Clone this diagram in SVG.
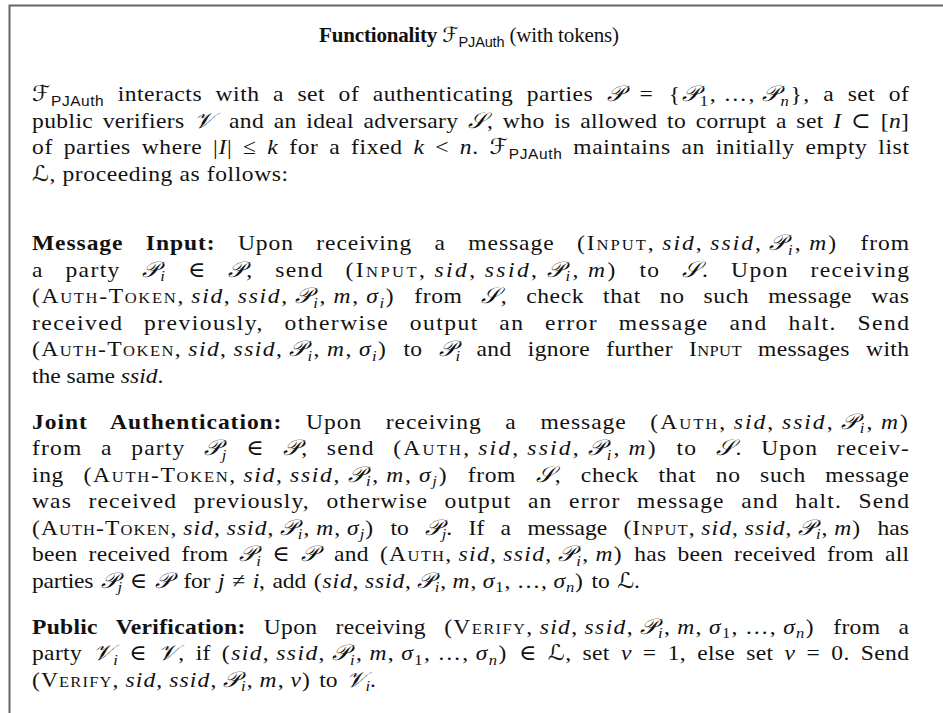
<svg xmlns="http://www.w3.org/2000/svg" width="943" height="713" viewBox="0 0 943 713">
<style>
.t{font-family:"Liberation Serif","DejaVu Serif",serif;font-size:22px;fill:#111}
.h{font-family:"Liberation Serif","DejaVu Serif",serif;font-size:21px;fill:#111}
.b{font-weight:bold}
.i{font-style:italic}
.m{letter-spacing:1px}
.sc{font-variant:small-caps}
.c{font-family:"DejaVu Serif","DejaVu Sans","Noto Sans",serif;font-style:italic}
.s{font-size:15.5px;font-style:italic;baseline-shift:-4.5px}
.sn{font-size:15.5px;baseline-shift:-4.5px}
.sf{font-family:"Liberation Sans","DejaVu Sans",sans-serif;font-size:14.5px;baseline-shift:-4.5px}
.frame{fill:none;stroke:#666;stroke-width:2}
</style>
<g id="frame"><path class="frame" d="M9.5,713 V5.5 H943"/></g>
<g id="title">
<text class="h" x="469" y="42" text-anchor="middle" textLength="300" lengthAdjust="spacing"><tspan class="b">Functionality</tspan> <tspan class="c">ℱ</tspan><tspan class="sf">PJAuth</tspan> (with tokens)</text>
</g>
<g id="intro">
<text class="t" transform="matrix(1.07 0 0 1 32 101)" textLength="819.6" lengthAdjust="spacing" word-spacing="6.6"><tspan class="c">ℱ</tspan><tspan class="sf">PJAuth</tspan> interacts with a set of authenticating parties <tspan class="m"><tspan class="c">𝒫</tspan> = {<tspan class="c">𝒫</tspan><tspan class="sn">1</tspan>,&#8201;…,&#8201;<tspan class="c">𝒫</tspan><tspan class="s">n</tspan>}</tspan>, a set of</text>
<text class="t" transform="matrix(1.07 0 0 1 32 127.5)" textLength="819.6" lengthAdjust="spacing" word-spacing="3.1">public verifiers <tspan class="c">𝒱</tspan>&#8201; and an ideal adversary <tspan class="c">𝒮</tspan>, who is allowed to corrupt a set <tspan class="i">I</tspan> ⊂ [<tspan class="i">n</tspan>]</text>
<text class="t" transform="matrix(1.07 0 0 1 32 154)" textLength="819.6" lengthAdjust="spacing" word-spacing="3.9">of parties where |<tspan class="i">I</tspan>| ≤ <tspan class="i">k</tspan> for a fixed <tspan class="i">k</tspan> &lt; <tspan class="i">n</tspan>. <tspan class="c">ℱ</tspan><tspan class="sf">PJAuth</tspan> maintains an initially empty list</text>
<text class="t" transform="matrix(1.07 0 0 1 32 180.5)" textLength="239.3" lengthAdjust="spacing"><tspan class="c">ℒ</tspan>, proceeding as follows:</text>
</g>
<g id="message-input">
<text class="t" transform="matrix(1.07 0 0 1 32 250)" textLength="819.6" lengthAdjust="spacing" word-spacing="14.6"><tspan class="b">Message Input:</tspan> Upon receiving a message <tspan class="m">(I<tspan class="sc">nput</tspan>,&#8201;<tspan class="i">sid</tspan>,&#8201;<tspan class="i">ssid</tspan>,&#8201;<tspan class="c">𝒫</tspan><tspan class="s">i</tspan>,&#8201;<tspan class="i">m</tspan>)</tspan> from</text>
<text class="t" transform="matrix(1.07 0 0 1 32 276.5)" textLength="819.6" lengthAdjust="spacing" word-spacing="13.5">a party <tspan class="c">𝒫</tspan><tspan class="s">i</tspan> ∈ <tspan class="c">𝒫</tspan>, send <tspan class="m">(I<tspan class="sc">nput</tspan>,&#8201;<tspan class="i">sid</tspan>,&#8201;<tspan class="i">ssid</tspan>,&#8201;<tspan class="c">𝒫</tspan><tspan class="s">i</tspan>,&#8201;<tspan class="i">m</tspan>)</tspan> to <tspan class="c">𝒮</tspan>. Upon receiving</text>
<text class="t" transform="matrix(1.07 0 0 1 32 303)" textLength="819.6" lengthAdjust="spacing" word-spacing="11.7"><tspan class="m">(A<tspan class="sc">uth</tspan>-T<tspan class="sc">oken</tspan>,&#8201;<tspan class="i">sid</tspan>,&#8201;<tspan class="i">ssid</tspan>,&#8201;<tspan class="c">𝒫</tspan><tspan class="s">i</tspan>,&#8201;<tspan class="i">m</tspan>,&#8201;<tspan class="i">σ</tspan><tspan class="s">i</tspan>)</tspan> from <tspan class="c">𝒮</tspan>, check that no such message was</text>
<text class="t" transform="matrix(1.07 0 0 1 32 329.5)" textLength="819.6" lengthAdjust="spacing" word-spacing="12.4">received previously, otherwise output an error message and halt. Send</text>
<text class="t" transform="matrix(1.07 0 0 1 32 356)" textLength="819.6" lengthAdjust="spacing" word-spacing="9.2"><tspan class="m">(A<tspan class="sc">uth</tspan>-T<tspan class="sc">oken</tspan>,&#8201;<tspan class="i">sid</tspan>,&#8201;<tspan class="i">ssid</tspan>,&#8201;<tspan class="c">𝒫</tspan><tspan class="s">i</tspan>,&#8201;<tspan class="i">m</tspan>,&#8201;<tspan class="i">σ</tspan><tspan class="s">i</tspan>)</tspan> to <tspan class="c">𝒫</tspan><tspan class="s">i</tspan> and ignore further I<tspan class="sc">nput</tspan> messages with</text>
<text class="t" transform="matrix(1.07 0 0 1 32 382.5)">the same <tspan class="i">ssid</tspan>.</text>
</g>
<g id="joint-authentication">
<text class="t" transform="matrix(1.07 0 0 1 32 428.5)" textLength="819.6" lengthAdjust="spacing" word-spacing="15.7"><tspan class="b">Joint Authentication:</tspan> Upon receiving a message <tspan class="m">(A<tspan class="sc">uth</tspan>,&#8201;<tspan class="i">sid</tspan>,&#8201;<tspan class="i">ssid</tspan>,&#8201;<tspan class="c">𝒫</tspan><tspan class="s">i</tspan>,&#8201;<tspan class="i">m</tspan>)</tspan></text>
<text class="t" transform="matrix(1.07 0 0 1 32 455)" textLength="819.6" lengthAdjust="spacing" word-spacing="10.9">from a party <tspan class="c">𝒫</tspan><tspan class="s">j</tspan> ∈ <tspan class="c">𝒫</tspan>, send <tspan class="m">(A<tspan class="sc">uth</tspan>,&#8201;<tspan class="i">sid</tspan>,&#8201;<tspan class="i">ssid</tspan>,&#8201;<tspan class="c">𝒫</tspan><tspan class="s">i</tspan>,&#8201;<tspan class="i">m</tspan>)</tspan> to <tspan class="c">𝒮</tspan>. Upon receiv-</text>
<text class="t" transform="matrix(1.07 0 0 1 32 481.5)" textLength="819.6" lengthAdjust="spacing" word-spacing="12.1">ing <tspan class="m">(A<tspan class="sc">uth</tspan>-T<tspan class="sc">oken</tspan>,&#8201;<tspan class="i">sid</tspan>,&#8201;<tspan class="i">ssid</tspan>,&#8201;<tspan class="c">𝒫</tspan><tspan class="s">i</tspan>,&#8201;<tspan class="i">m</tspan>,&#8201;<tspan class="i">σ</tspan><tspan class="s">j</tspan>)</tspan> from <tspan class="c">𝒮</tspan>, check that no such message</text>
<text class="t" transform="matrix(1.07 0 0 1 32 508)" textLength="819.6" lengthAdjust="spacing" word-spacing="9">was received previously, otherwise output an error message and halt. Send</text>
<text class="t" transform="matrix(1.07 0 0 1 32 534.5)" textLength="819.6" lengthAdjust="spacing" word-spacing="9.8"><tspan class="m">(A<tspan class="sc">uth</tspan>-T<tspan class="sc">oken</tspan>,&#8201;<tspan class="i">sid</tspan>,&#8201;<tspan class="i">ssid</tspan>,&#8201;<tspan class="c">𝒫</tspan><tspan class="s">i</tspan>,&#8201;<tspan class="i">m</tspan>,&#8201;<tspan class="i">σ</tspan><tspan class="s">j</tspan>)</tspan> to <tspan class="c">𝒫</tspan><tspan class="s">j</tspan>. If a message <tspan class="m">(I<tspan class="sc">nput</tspan>,&#8201;<tspan class="i">sid</tspan>,&#8201;<tspan class="i">ssid</tspan>,&#8201;<tspan class="c">𝒫</tspan><tspan class="s">i</tspan>,&#8201;<tspan class="i">m</tspan>)</tspan> has</text>
<text class="t" transform="matrix(1.07 0 0 1 32 561)" textLength="819.6" lengthAdjust="spacing" word-spacing="4.7">been received from <tspan class="c">𝒫</tspan><tspan class="s">i</tspan> ∈ <tspan class="c">𝒫</tspan>&#8201; and <tspan class="m">(A<tspan class="sc">uth</tspan>,&#8201;<tspan class="i">sid</tspan>,&#8201;<tspan class="i">ssid</tspan>,&#8201;<tspan class="c">𝒫</tspan><tspan class="s">i</tspan>,&#8201;<tspan class="i">m</tspan>)</tspan> has been received from all</text>
<text class="t" transform="matrix(1.07 0 0 1 32 587.5)" textLength="568.2" lengthAdjust="spacing" word-spacing="2">parties <tspan class="c">𝒫</tspan><tspan class="s">j</tspan> ∈ <tspan class="c">𝒫</tspan>&#8201; for <tspan class="i">j</tspan> ≠ <tspan class="i">i</tspan>, add <tspan class="m">(<tspan class="i">sid</tspan>,&#8201;<tspan class="i">ssid</tspan>,&#8201;<tspan class="c">𝒫</tspan><tspan class="s">i</tspan>,&#8201;<tspan class="i">m</tspan>,&#8201;<tspan class="i">σ</tspan><tspan class="sn">1</tspan>,&#8201;…,&#8201;<tspan class="i">σ</tspan><tspan class="s">n</tspan>)</tspan> to <tspan class="c">ℒ</tspan>.</text>
</g>
<g id="public-verification">
<text class="t" transform="matrix(1.07 0 0 1 32 633.5)" textLength="819.6" lengthAdjust="spacing" word-spacing="11.3"><tspan class="b">Public Verification:</tspan> Upon receiving <tspan class="m">(V<tspan class="sc">erify</tspan>,&#8201;<tspan class="i">sid</tspan>,&#8201;<tspan class="i">ssid</tspan>,&#8201;<tspan class="c">𝒫</tspan><tspan class="s">i</tspan>,&#8201;<tspan class="i">m</tspan>,&#8201;<tspan class="i">σ</tspan><tspan class="sn">1</tspan>,&#8201;…,&#8201;<tspan class="i">σ</tspan><tspan class="s">n</tspan>)</tspan> from a</text>
<text class="t" transform="matrix(1.07 0 0 1 32 660)" textLength="819.6" lengthAdjust="spacing" word-spacing="4.6">party <tspan class="c">𝒱</tspan><tspan class="s">i</tspan> ∈ <tspan class="c">𝒱</tspan>, if <tspan class="m">(<tspan class="i">sid</tspan>,&#8201;<tspan class="i">ssid</tspan>,&#8201;<tspan class="c">𝒫</tspan><tspan class="s">i</tspan>,&#8201;<tspan class="i">m</tspan>,&#8201;<tspan class="i">σ</tspan><tspan class="sn">1</tspan>,&#8201;…,&#8201;<tspan class="i">σ</tspan><tspan class="s">n</tspan>)</tspan> ∈ <tspan class="c">ℒ</tspan>, set <tspan class="i">v</tspan> = 1, else set <tspan class="i">v</tspan> = 0. Send</text>
<text class="t" transform="matrix(1.07 0 0 1 32 686.5)" textLength="321.5" lengthAdjust="spacing" word-spacing="2"><tspan class="m">(V<tspan class="sc">erify</tspan>,&#8201;<tspan class="i">sid</tspan>,&#8201;<tspan class="i">ssid</tspan>,&#8201;<tspan class="c">𝒫</tspan><tspan class="s">i</tspan>,&#8201;<tspan class="i">m</tspan>,&#8201;<tspan class="i">v</tspan>)</tspan> to <tspan class="c">𝒱</tspan><tspan class="s">i</tspan>.</text>
</g>
</svg>
